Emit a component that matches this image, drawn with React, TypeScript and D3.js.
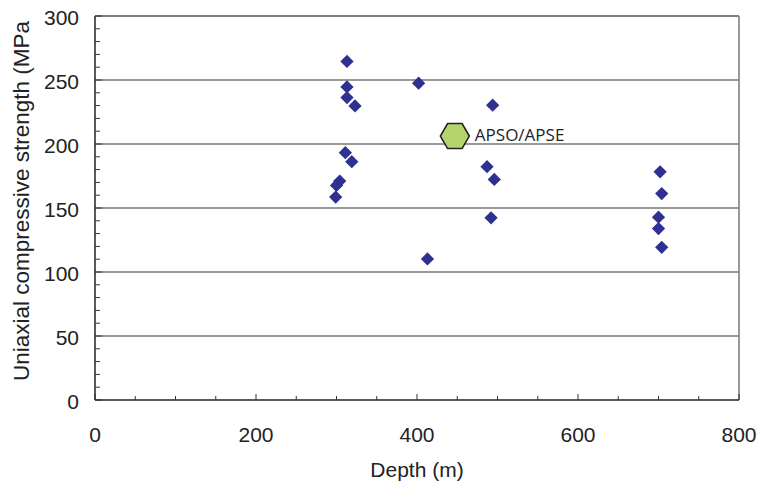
import React from "react";
import * as d3 from "d3";

const depths = [313, 313, 313, 323, 402, 311, 319, 304, 300, 299, 494, 487, 496, 492, 413, 702, 704, 700, 700, 704];
const strengths = [264.5, 244.6, 236.3, 229.7, 247.5, 193.2, 186.2, 171, 167.6, 158.5, 230.3, 182.3, 172.3, 142.3, 110.2, 178.3, 161.3, 142.8, 133.9, 119.3];
const refLabel = "APSO/APSE";
const refDepth = [447];
const refStrength = [206.2];
const xTicks = [0, 200, 400, 600, 800];
const yTicks = [0, 50, 100, 150, 200, 250, 300];

export default function App() {
  const W = 758, H = 486;
  const L = 95, R = 739, T = 16, B = 400;
  const x = d3.scaleLinear().domain([0, 800]).range([L, R]);
  const y = d3.scaleLinear().domain([0, 300]).range([B, T]);
  const xMinor = d3.range(0, 801, 50);
  const yMinor = d3.range(0, 301, 10);
  const font = "'Liberation Sans', Arial, sans-serif";
  const hex = (cx: number, cy: number, rx: number, ry: number) => {
    const pts = [
      [cx - rx, cy], [cx - rx / 2, cy - ry], [cx + rx / 2, cy - ry],
      [cx + rx, cy], [cx + rx / 2, cy + ry], [cx - rx / 2, cy + ry],
    ];
    return d3.line()(pts as [number, number][]) + "Z";
  };
  const sym = d3.symbol().type(d3.symbolSquare).size(88)();
  return (
    <svg width={W} height={H} style={{ position: "absolute", left: 0, top: 0 }}>
      <rect width={W} height={H} fill="white" />
      {yTicks.filter(t => t > 0 && t < 300).map(t => (
        <line key={"g" + t} x1={L} x2={R} y1={y(t)} y2={y(t)} stroke="#777" strokeWidth={1.3} />
      ))}
      <line x1={L} x2={R} y1={T} y2={T} stroke="#555" strokeWidth={1.3} />
      <line x1={R} x2={R} y1={T} y2={B} stroke="#777" strokeWidth={1.5} />
      <line x1={L} x2={L} y1={T} y2={B} stroke="#222" strokeWidth={1.5} />
      <line x1={L} x2={R} y1={B} y2={B} stroke="#222" strokeWidth={1.5} />
      {yMinor.map(t => (
        <line key={"ym" + t} x1={L} x2={L + (t % 50 === 0 ? 7 : 5)} y1={y(t)} y2={y(t)} stroke="#333" strokeWidth={1} />
      ))}
      {xMinor.map(t => (
        <line key={"xm" + t} x1={x(t)} x2={x(t)} y1={B} y2={B - (t % 200 === 0 ? 6 : 4)} stroke="#333" strokeWidth={1} />
      ))}
      {yTicks.map(t => (
        <text key={"yl" + t} x={L - 16} y={y(t) + 9} textAnchor="end" fontFamily={font} fontSize={21} fill="#222">{t}</text>
      ))}
      {xTicks.map(t => (
        <text key={"xl" + t} x={x(t)} y={442} textAnchor="middle" fontFamily={font} fontSize={21} fill="#222">{t}</text>
      ))}
      <text x={417} y={477} textAnchor="middle" fontFamily={font} fontSize={21} fill="#222">Depth (m)</text>
      <text transform={`translate(29,201) rotate(-90)`} textAnchor="middle" fontFamily={font} fontSize={22.5} fill="#222">Uniaxial compressive strength (MPa</text>
      {depths.map((d, i) => (
        <path key={"p" + i} d={sym} transform={`translate(${x(d)},${y(strengths[i])}) rotate(45)`} fill="#2e3192" />
      ))}
      {refDepth.map((d, i) => (
        <g key={"r" + i}>
          <path d={hex(x(d), y(refStrength[i]), 14.5, 12.5)} fill="#b3d56c" stroke="#222" strokeWidth={1.6} />
          <text x={x(d) + 20} y={y(refStrength[i]) + 5} fontFamily="'Open Sans', sans-serif" fontSize={17} fill="#222">{refLabel}</text>
        </g>
      ))}
    </svg>
  );
}
